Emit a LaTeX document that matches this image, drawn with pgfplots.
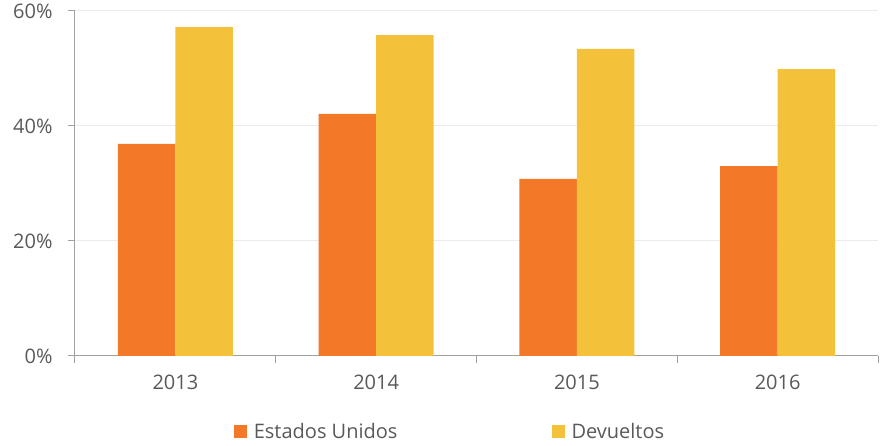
\documentclass[border=0pt]{standalone}
\usepackage{pgfplots}
\pgfplotsset{compat=1.18}
\usepackage{fontspec}
\setmainfont{Open Sans}
\definecolor{orangeUS}{RGB}{243,120,40}
\definecolor{yellowDV}{RGB}{244,193,59}
\definecolor{txtgray}{RGB}{89,89,89}
\definecolor{axgray}{RGB}{160,160,160}
\definecolor{gridgray}{RGB}{235,235,235}
\begin{document}
\begin{tikzpicture}[font=\fontsize{20}{24}\selectfont]
\path[use as bounding box] (-75pt,-90pt) rectangle (810pt,356pt);
\begin{axis}[
  at={(0pt,0pt)}, anchor=south west,
  scale only axis, width=803pt, height=345pt,
  ymin=0, ymax=60, xmin=-0.5, xmax=3.5,
  ybar=0pt, bar width=57.5pt,
  axis lines*=left,
  axis line style={axgray, line width=1pt},
  xtick={0,1,2,3}, xticklabels={2013,2014,2015,2016},
  minor xtick={-0.5,0.5,1.5,2.5,3.5},
  major x tick style={draw=none},
  minor x tick style={axgray, line width=1pt},
  minor tick length=7pt,
  ytick={0,20,40,60}, yticklabels={0\%,20\%,40\%,60\%},
  y tick style={axgray, line width=1pt},
  major tick length=7pt,
  tick align=outside,
  ymajorgrids, grid style={gridgray, line width=1pt},
  tick label style={font=\fontsize{20}{24}\selectfont, text=txtgray},
  xticklabel style={yshift=-8pt},
  yticklabel style={xshift=-12pt},
  legend style={at={(0.467,-0.22)}, anchor=center, draw=none, fill=none,
    font=\fontsize{20}{24}\selectfont, text=txtgray, legend columns=2,
    /tikz/every odd column/.append style={column sep=5pt},
    /tikz/every even column/.append style={column sep=152pt}},
  legend image code/.code={\fill[#1] (0pt,-6.5pt) rectangle (13pt,6.5pt);},
]
\addplot[fill=orangeUS, draw=none] coordinates {(0,36.9) (1,42.1) (2,30.8) (3,33.0)};
\addplot[fill=yellowDV, draw=none] coordinates {(0,57.2) (1,55.8) (2,53.4) (3,49.9)};
\legend{Estados Unidos, Devueltos}
\end{axis}
\end{tikzpicture}
\end{document}
